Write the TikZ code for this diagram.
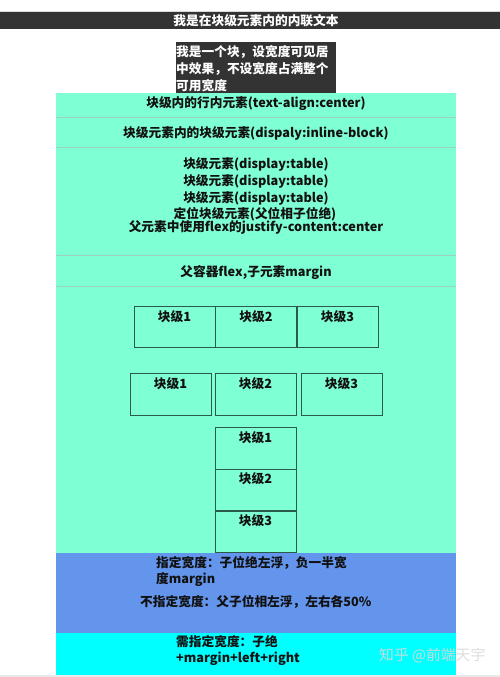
\documentclass[tikz,border=0pt]{standalone}
\usepackage{fontspec}
\setmainfont{Noto Sans CJK SC}
\definecolor{aqua}{HTML}{7FFFD4}
\definecolor{cblue}{HTML}{6495ED}
\definecolor{cyanc}{HTML}{00FFFF}
\definecolor{darkbg}{HTML}{333333}
\definecolor{sepline}{HTML}{9FCFBF}
\definecolor{boxline}{HTML}{2B5A4A}
\definecolor{txt}{HTML}{111111}
\tikzset{
  t/.style={inner sep=0pt, anchor=base, text=txt, font=\bfseries\fontsize{12.7}{15}\selectfont},
  tl/.style={t, anchor=base west},
  tw/.style={t, text=white},
  twl/.style={tw, anchor=base west},
  blk/.style={draw=boxline, line width=0.9pt, inner sep=0pt, minimum width=81pt, minimum height=41.5pt},
  sep/.style={draw=sepline, line width=0.9pt},
  wm/.style={inner sep=0pt, anchor=base west, text=white!85!black, opacity=0.9, font=\fontsize{14.8}{17}\selectfont},
}
\begin{document}
\begin{tikzpicture}[x=1pt,y=-1pt]
\useasboundingbox (0,0) rectangle (500,677);
\fill[white] (0,0) rectangle (500,677);
% top bar
\fill[black!15] (0,11) rectangle (500,12);
\fill[darkbg] (0,12) rectangle (500,29);
\node[tw] (topt) at (256,25.5) {我是在块级元素内的内联文本};
% dark block
\fill[darkbg] (176,42) rectangle (336,93);
\node[twl] (d1) at (176,56.5) {我是一个块，设宽度可见居};
\node[twl] (d2) at (176,73.5) {中效果，不设宽度占满整个};
\node[twl] (d3) at (176,90.5) {可用宽度};
% regions
\fill[aqua] (56,93) rectangle (456,553);
\fill[cblue] (56,553) rectangle (456,633);
\fill[cyanc] (56,633) rectangle (456,675);
\fill[black!9] (0,675) rectangle (500,677);
% separators
\coordinate (s1l) at (56,117); \coordinate (s1r) at (456,117);
\coordinate (s2l) at (56,147); \coordinate (s2r) at (456,147);
\coordinate (s3l) at (56,255); \coordinate (s3r) at (456,255);
\coordinate (s4l) at (56,286); \coordinate (s4r) at (456,286);
\draw[sep] (s1l) -- (s1r);
\draw[sep] (s2l) -- (s2r);
\draw[sep] (s3l) -- (s3r);
\draw[sep] (s4l) -- (s4r);
% texts
\node[t] (a1) at (256,107.5) {块级内的行内元素(text-align:center)};
\node[t] (a2) at (256,137.5) {块级元素内的块级元素(dispaly:inline-block)};
\node[t] (a3) at (256,168.5) {块级元素(display:table)};
\node[t] (a4) at (256,185.5) {块级元素(display:table)};
\node[t] (a5) at (256,202.5) {块级元素(display:table)};
\node[t] (a6) at (255,218.5) {定位块级元素(父位相子位绝)};
\node[t] (a7) at (256,231.5) {父元素中使用flex的justify-content:center};
\node[t] (a8) at (256,276.5) {父容器flex,子元素margin};
% row 1
\node[blk] (r1a) at (174.5,327) {};
\node[blk] (r1b) at (256,327) {};
\node[blk] (r1c) at (337.5,327) {};
\node[t] (r1at) at (174.5,321.5) {块级1};
\node[t] (r1bt) at (256,321.5) {块级2};
\node[t] (r1ct) at (337.5,321.5) {块级3};
% row 2
\node[blk] (r2a) at (170.5,394.5) {};
\node[blk] (r2b) at (255.5,394.5) {};
\node[blk] (r2c) at (341.5,394.5) {};
\node[t] (r2at) at (170.5,388.5) {块级1};
\node[t] (r2bt) at (255.5,388.5) {块级2};
\node[t] (r2ct) at (341.5,388.5) {块级3};
% column
\node[blk] (c1) at (255.5,448.5) {};
\node[blk] (c2) at (255.5,490) {};
\node[blk] (c3) at (255.5,532) {};
\node[t] (c1t) at (255.5,442.5) {块级1};
\node[t] (c2t) at (255.5,483.5) {块级2};
\node[t] (c3t) at (255.5,525.5) {块级3};
% cover the bottom of the last box with the blue region edge
\fill[cblue] (56,553) rectangle (456,556);
% blue region texts
\node[tl] (b1) at (156,567.5) {指定宽度：子位绝左浮，负一半宽};
\node[tl] (b2) at (156,583.5) {度margin};
\node[tl] (b3) at (140,606.5) {不指定宽度：父子位相左浮，左右各50\%};
% cyan region texts
\node[tl] (cy1) at (176,646.5) {需指定宽度：子绝};
\node[tl] (cy2) at (176,662.5) {+margin+left+right};
% watermark
\node[wm] (wmk) at (379,660.5) {知乎 @前端天宇};
\end{tikzpicture}
\end{document}
